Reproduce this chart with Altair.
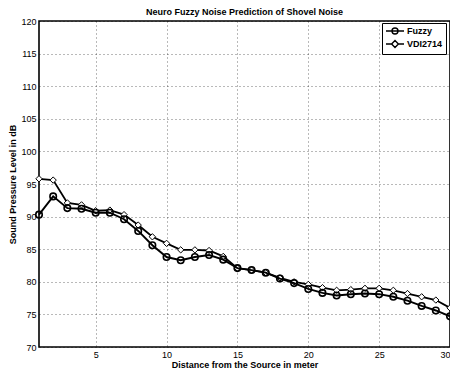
import altair as alt
import pandas as pd

distance = list(range(1, 31))
fuzzy = [90.3, 93.1, 91.3, 91.2, 90.6, 90.6, 89.6, 87.8, 85.6, 83.8,
         83.3, 83.8, 84.1, 83.4, 82.1, 81.8, 81.4, 80.5, 79.8, 78.9,
         78.3, 77.9, 78.1, 78.2, 78.1, 77.7, 77.1, 76.3, 75.6, 74.7]
vdi = [95.8, 95.6, 92.1, 91.8, 90.9, 91.0, 90.3, 88.7, 86.9, 85.9,
       84.9, 84.9, 84.8, 83.9, 82.1, 81.8, 81.4, 80.6, 80.0, 79.6,
       79.1, 78.7, 78.8, 79.0, 79.0, 78.7, 78.2, 77.7, 77.2, 76.0]
series_names = ["Fuzzy", "VDI2714"]
x_ticks = [5, 10, 15, 20, 25, 30]
y_ticks = [70, 75, 80, 85, 90, 95, 100, 105, 110, 115, 120]

df = pd.DataFrame({
    "d": distance * 2,
    "v": fuzzy + vdi,
    "s": [series_names[0]] * len(distance) + [series_names[1]] * len(distance),
})

FONT = "Liberation Sans"

xenc = alt.X("d:Q", scale=alt.Scale(domain=[1, 30], nice=False, zero=False),
             axis=alt.Axis(values=x_ticks, title="Distance from the Source in meter",
                           grid=True, ticks=False, domain=False, labelPadding=3,
                           labelFlush=True, titlePadding=1))
yenc = alt.Y("v:Q", scale=alt.Scale(domain=[70, 120], nice=False, zero=False),
             axis=alt.Axis(values=y_ticks, title="Sound Pressure Level in dB",
                           grid=True, ticks=False, domain=False, labelPadding=3,
                           labelFlush=False, titlePadding=3))

base = alt.Chart(df)

vdi_line = base.transform_filter(alt.datum.s == "VDI2714").mark_line(
    color="black", strokeWidth=1.8).encode(x=xenc, y=yenc)
vdi_pts = base.transform_filter(alt.datum.s == "VDI2714").mark_point(
    shape="diamond", size=40, filled=True, fill="white", stroke="black",
    strokeWidth=1, opacity=1).encode(x=xenc, y=yenc)
fz_line = base.transform_filter(alt.datum.s == "Fuzzy").mark_line(
    color="black", strokeWidth=1.9).encode(x=xenc, y=yenc)
fz_pts = base.transform_filter(alt.datum.s == "Fuzzy").mark_point(
    shape="circle", size=42, filled=False, stroke="black",
    strokeWidth=1.6, opacity=1).encode(x=xenc, y=yenc)

fuzzy_sym = "M-1,0H3.5M0.5,0A0.75,0.75 0 1,1 2,0A0.75,0.75 0 1,1 0.5,0Z"
vdi_sym = "M-1,0H0.4M2.1,0H3.5M1.25,-0.85L2.1,0L1.25,0.85L0.4,0Z"

legend_layer = base.mark_point(opacity=0).encode(
    x=xenc, y=yenc,
    shape=alt.Shape("s:N",
                    scale=alt.Scale(domain=series_names, range=[fuzzy_sym, vdi_sym]),
                    legend=alt.Legend(title=None, orient="none", legendX=343, legendY=2,
                                      strokeColor="black", fillColor="white",
                                      padding=3, rowPadding=0,
                                      symbolSize=64, symbolStrokeColor="black",
                                      symbolFillColor="white", symbolStrokeWidth=1.4,
                                      symbolOpacity=1,
                                      labelFont=FONT, labelFontSize=9,
                                      labelFontWeight="bold", labelColor="black",
                                      labelOffset=12)),
)

chart = alt.layer(vdi_line, vdi_pts, fz_line, fz_pts, legend_layer).properties(
    width=411, height=326,
    title=alt.TitleParams("Neuro Fuzzy Noise Prediction of Shovel Noise",
                          font=FONT, fontSize=9, fontWeight="bold", color="black",
                          offset=4, dy=4, anchor="middle"),
    autosize=alt.AutoSizeParams(type="none"),
    padding={"left": 31, "top": 13, "right": 0, "bottom": 21},
).configure_view(
    stroke="black", strokeWidth=1.6
).configure_axis(
    labelFont=FONT, labelFontSize=9, labelColor="black",
    titleFont=FONT, titleFontSize=9, titleFontWeight="bold", titleColor="black",
    gridColor="black", gridDash=[1, 3], gridOpacity=0.55, gridWidth=1,
)

chart.save("out.html", embed_options={"renderer": "svg", "actions": False})
